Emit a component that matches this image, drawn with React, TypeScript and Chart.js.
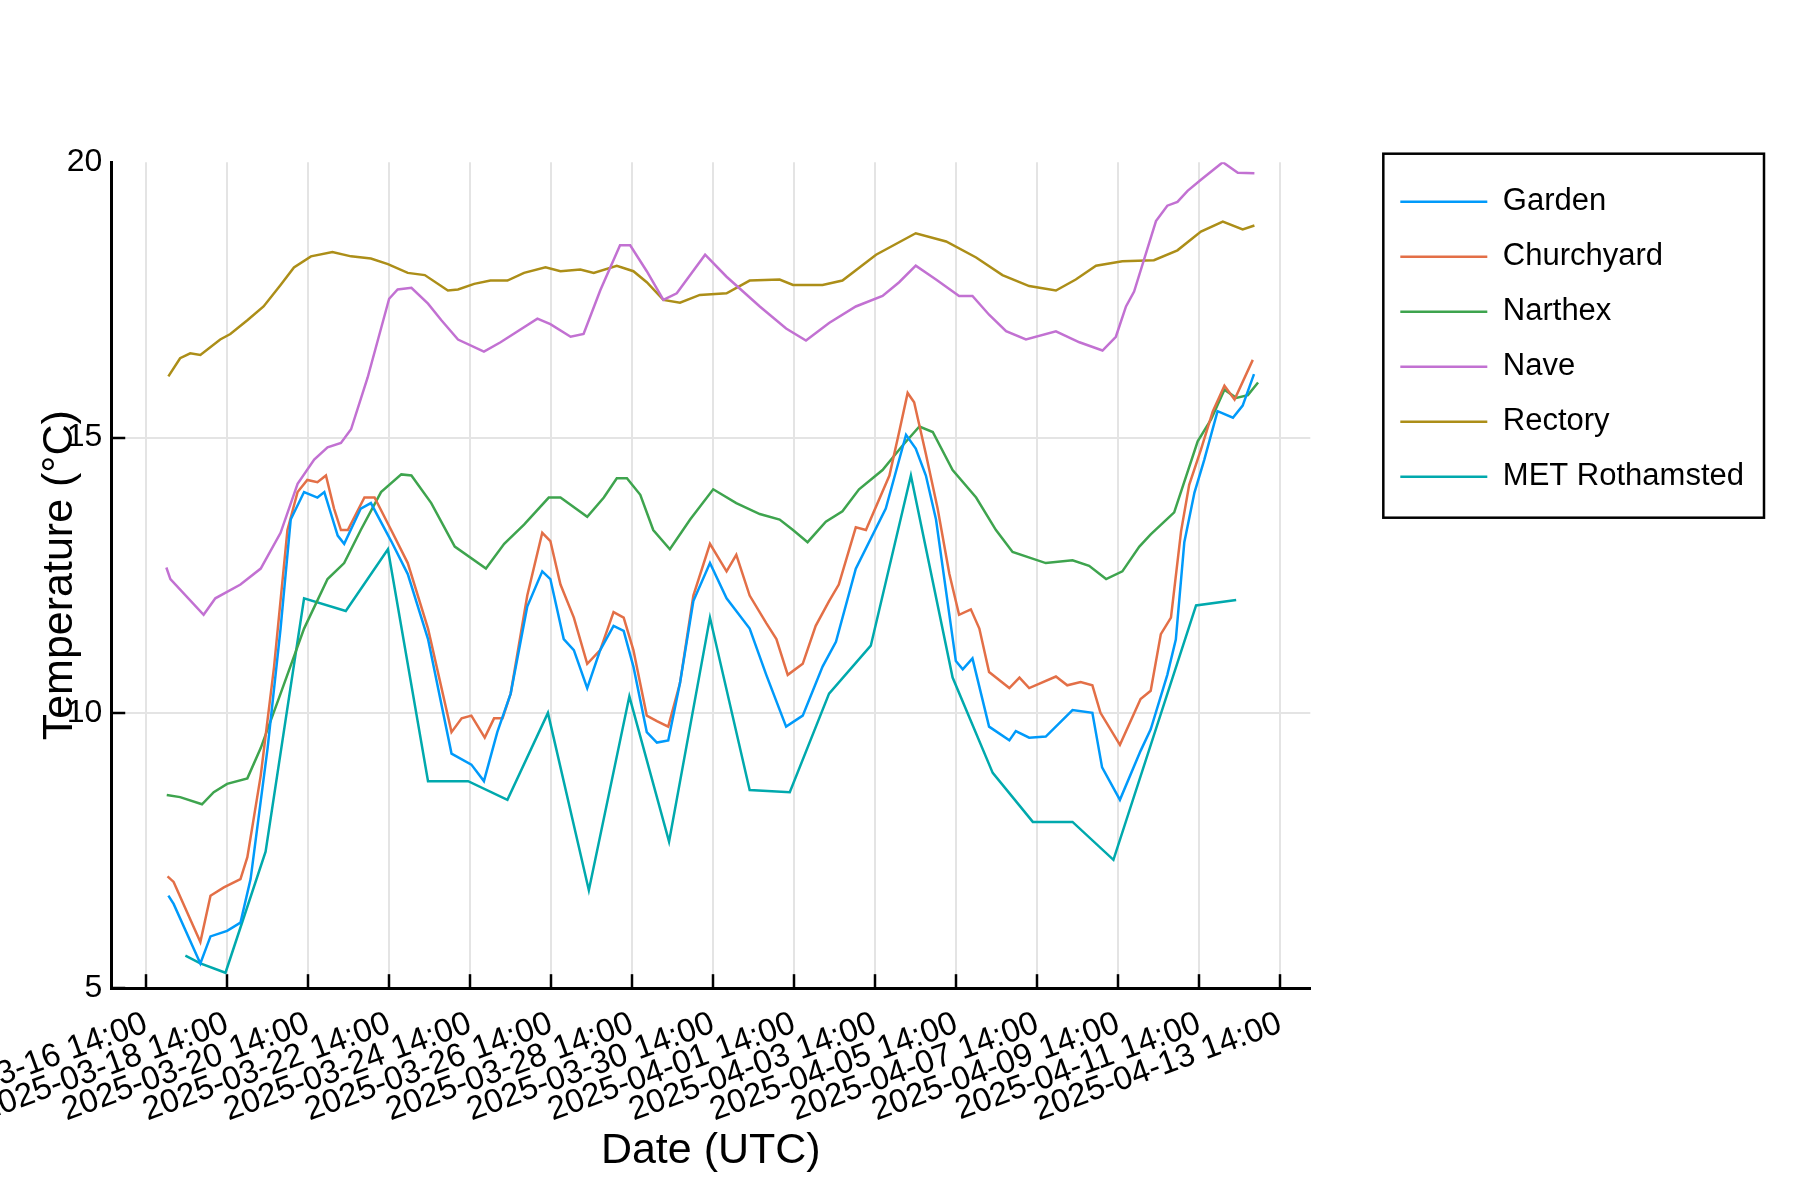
import React, { useEffect, useRef } from 'react';
import Chart from 'chart.js/auto';

Chart.defaults.font.family = "'Liberation Sans', Arial, sans-serif";
Chart.defaults.color = '#000';

// x values are days since 2025-03-16 14:00 UTC (the first axis tick)
const tickDays = [0, 2, 4, 6, 8, 10, 12, 14, 16, 18, 20, 22, 24, 26, 28];
const tickLabels = [
  '2025-03-16 14:00', '2025-03-18 14:00', '2025-03-20 14:00', '2025-03-22 14:00',
  '2025-03-24 14:00', '2025-03-26 14:00', '2025-03-28 14:00', '2025-03-30 14:00',
  '2025-04-01 14:00', '2025-04-03 14:00', '2025-04-05 14:00', '2025-04-07 14:00',
  '2025-04-09 14:00', '2025-04-11 14:00', '2025-04-13 14:00',
];
const yTicks = [5, 10, 15, 20];

const gardenDays = [0.55, 0.68, 1.34, 1.59, 2.0, 2.33, 2.58, 3.0, 3.32, 3.57, 3.9, 4.23, 4.4, 4.73, 4.89, 5.3, 5.55, 6.05, 6.46, 6.96, 7.54, 8.03, 8.34, 8.67, 9.0, 9.41, 9.78, 9.98, 10.31, 10.56, 10.89, 11.21, 11.54, 11.79, 12.03, 12.36, 12.61, 12.89, 13.18, 13.51, 13.92, 14.33, 14.9, 15.31, 15.8, 16.21, 16.7, 17.03, 17.52, 18.26, 18.76, 19.0, 19.25, 19.5, 19.99, 20.16, 20.4, 20.81, 21.31, 21.47, 21.8, 22.21, 22.87, 23.36, 23.6, 24.04, 24.55, 24.8, 25.21, 25.42, 25.63, 25.88, 26.12, 26.45, 26.83, 27.07, 27.35];
const gardenTemps = [6.68, 6.53, 5.45, 5.94, 6.04, 6.19, 6.98, 9.36, 11.53, 13.51, 14.01, 13.91, 14.01, 13.22, 13.07, 13.71, 13.81, 13.12, 12.52, 11.34, 9.26, 9.06, 8.76, 9.65, 10.35, 11.93, 12.57, 12.43, 11.34, 11.14, 10.45, 11.14, 11.58, 11.49, 10.84, 9.65, 9.46, 9.5, 10.54, 12.03, 12.72, 12.08, 11.53, 10.69, 9.75, 9.95, 10.84, 11.29, 12.62, 13.71, 15.05, 14.8, 14.31, 13.51, 10.94, 10.79, 10.99, 9.75, 9.5, 9.67, 9.55, 9.57, 10.05, 10.0, 9.01, 8.42, 9.31, 9.7, 10.69, 11.33, 13.1, 14.0, 14.59, 15.48, 15.36, 15.58, 16.15];

const churchyardDays = [0.53, 0.68, 1.34, 1.59, 1.92, 2.33, 2.5, 2.83, 3.16, 3.49, 3.74, 3.98, 4.23, 4.44, 4.64, 4.81, 4.98, 5.39, 5.64, 6.05, 6.46, 6.96, 7.54, 7.79, 8.03, 8.36, 8.59, 8.8, 9.0, 9.41, 9.78, 9.98, 10.23, 10.56, 10.89, 11.21, 11.54, 11.79, 12.03, 12.36, 12.61, 12.89, 13.18, 13.51, 13.92, 14.33, 14.57, 14.9, 15.31, 15.56, 15.84, 16.21, 16.53, 16.86, 17.1, 17.52, 17.77, 18.35, 18.59, 18.8, 18.96, 19.25, 19.54, 19.83, 20.07, 20.36, 20.57, 20.81, 21.31, 21.56, 21.8, 22.46, 22.74, 23.07, 23.36, 23.56, 24.04, 24.55, 24.8, 25.05, 25.3, 25.55, 25.75, 26.04, 26.33, 26.62, 26.87, 27.32];
const churchyardTemps = [7.03, 6.93, 5.84, 6.68, 6.83, 6.98, 7.38, 8.86, 10.84, 13.32, 14.01, 14.23, 14.19, 14.31, 13.71, 13.32, 13.32, 13.91, 13.91, 13.32, 12.72, 11.53, 9.65, 9.9, 9.95, 9.55, 9.9, 9.9, 10.35, 12.13, 13.27, 13.12, 12.33, 11.73, 10.89, 11.14, 11.83, 11.73, 11.14, 9.95, 9.85, 9.75, 10.54, 12.13, 13.07, 12.57, 12.87, 12.13, 11.63, 11.34, 10.69, 10.89, 11.58, 12.03, 12.33, 13.37, 13.32, 14.31, 15.1, 15.81, 15.64, 14.7, 13.71, 12.52, 11.78, 11.88, 11.53, 10.74, 10.45, 10.64, 10.45, 10.66, 10.5, 10.56, 10.5, 10.0, 9.42, 10.25, 10.4, 11.43, 11.73, 13.3, 14.14, 14.78, 15.47, 15.94, 15.69, 16.41];

const narthexDays = [0.51, 0.84, 1.38, 1.67, 2.0, 2.5, 2.83, 3.32, 3.9, 4.48, 4.89, 5.3, 5.8, 6.3, 6.55, 7.04, 7.62, 8.39, 8.84, 9.33, 9.94, 10.23, 10.89, 11.3, 11.62, 11.87, 12.2, 12.52, 12.93, 13.43, 14.0, 14.57, 15.15, 15.64, 15.97, 16.33, 16.78, 17.19, 17.6, 18.18, 18.67, 19.09, 19.42, 19.91, 20.49, 20.98, 21.39, 22.21, 22.87, 23.28, 23.7, 24.1, 24.52, 24.8, 25.38, 25.96, 26.29, 26.62, 26.91, 27.2, 27.45];
const narthexTemps = [8.51, 8.47, 8.34, 8.56, 8.71, 8.81, 9.36, 10.35, 11.53, 12.43, 12.72, 13.32, 14.01, 14.33, 14.31, 13.81, 13.02, 12.62, 13.07, 13.42, 13.91, 13.91, 13.56, 13.91, 14.26, 14.26, 13.96, 13.32, 12.97, 13.51, 14.06, 13.81, 13.61, 13.51, 13.32, 13.1, 13.47, 13.66, 14.06, 14.41, 14.85, 15.2, 15.1, 14.41, 13.91, 13.32, 12.92, 12.72, 12.77, 12.67, 12.43, 12.57, 13.02, 13.24, 13.64, 14.93, 15.33, 15.87, 15.72, 15.77, 16.0];

const naveDays = [0.5, 0.6, 1.42, 1.71, 2.33, 2.83, 3.32, 3.74, 4.15, 4.48, 4.81, 5.06, 5.47, 6.0, 6.21, 6.55, 6.96, 7.29, 7.7, 8.34, 8.75, 9.66, 9.98, 10.48, 10.8, 11.21, 11.7, 11.95, 12.36, 12.77, 13.1, 13.8, 14.33, 15.15, 15.8, 16.29, 16.86, 17.52, 18.18, 18.59, 19.0, 19.5, 20.07, 20.4, 20.81, 21.23, 21.72, 22.46, 23.04, 23.61, 23.94, 24.19, 24.39, 24.93, 25.21, 25.46, 25.71, 26.04, 26.58, 26.95, 27.36];
const naveTemps = [12.64, 12.43, 11.78, 12.08, 12.33, 12.62, 13.27, 14.16, 14.6, 14.82, 14.9, 15.15, 16.09, 17.52, 17.69, 17.72, 17.43, 17.13, 16.78, 16.56, 16.73, 17.16, 17.06, 16.83, 16.88, 17.67, 18.49, 18.49, 18.02, 17.5, 17.62, 18.32, 17.92, 17.38, 16.98, 16.76, 17.08, 17.38, 17.57, 17.82, 18.12, 17.87, 17.57, 17.57, 17.23, 16.93, 16.78, 16.93, 16.73, 16.58, 16.83, 17.38, 17.65, 18.93, 19.21, 19.28, 19.48, 19.68, 20.0, 19.81, 19.8];

const rectoryDays = [0.55, 0.84, 1.09, 1.34, 1.83, 2.08, 2.5, 2.9, 3.32, 3.65, 4.07, 4.6, 5.06, 5.55, 5.97, 6.46, 6.88, 7.45, 7.7, 8.1, 8.5, 8.92, 9.33, 9.86, 10.23, 10.72, 11.05, 11.62, 12.03, 12.36, 12.77, 13.18, 13.67, 14.33, 14.9, 15.64, 15.97, 16.7, 17.19, 18.02, 19.0, 19.75, 20.49, 21.14, 21.8, 22.46, 22.95, 23.45, 24.1, 24.88, 25.46, 26.04, 26.58, 27.07, 27.36];
const rectoryTemps = [16.11, 16.44, 16.53, 16.5, 16.78, 16.88, 17.13, 17.38, 17.77, 18.09, 18.29, 18.37, 18.29, 18.25, 18.15, 17.99, 17.95, 17.67, 17.69, 17.79, 17.85, 17.85, 17.99, 18.09, 18.02, 18.05, 17.99, 18.12, 18.02, 17.82, 17.5, 17.45, 17.59, 17.62, 17.85, 17.87, 17.77, 17.77, 17.85, 18.32, 18.71, 18.56, 18.27, 17.95, 17.75, 17.67, 17.87, 18.12, 18.2, 18.22, 18.4, 18.74, 18.92, 18.78, 18.85];

const metDays = [0.97, 1.34, 1.96, 2.95, 3.9, 4.93, 5.97, 6.96, 7.95, 8.92, 9.92, 10.93, 11.93, 12.91, 13.92, 14.9, 15.89, 16.86, 17.89, 18.88, 19.91, 20.9, 21.89, 22.87, 23.88, 25.92, 26.91];
const metTemps = [5.59, 5.45, 5.28, 7.48, 12.08, 11.85, 12.97, 8.76, 8.76, 8.42, 10.0, 6.78, 10.3, 7.66, 11.73, 8.6, 8.56, 10.35, 11.22, 14.31, 10.64, 8.91, 8.02, 8.02, 7.33, 11.95, 12.05];

// where the plot area sits on the page, in px
const PLOT_LEFT = 111;
const PLOT_TOP = 162;
const PLOT_WIDTH = 1199;
const PLOT_HEIGHT = 826;

const pts = (days: number[], temps: number[]) => days.map((x, i) => ({ x, y: temps[i] }));

// thin black frame around the legend, like the original plot
const legendFrame = {
  id: 'legendFrame',
  afterDraw(chart: any) {
    const boxes = chart.legend?.legendHitBoxes;
    if (!boxes || !boxes.length) return;
    const first = boxes[0];
    const last = boxes[boxes.length - 1];
    const left = Math.min(...boxes.map((b: any) => b.left)) - 17;
    const right = Math.max(...boxes.map((b: any) => b.left + b.width)) + 20;
    const top = first.top + first.height / 2 - 48;
    const bottom = last.top + last.height / 2 + 41;
    const { ctx } = chart;
    ctx.save();
    ctx.strokeStyle = '#000';
    ctx.lineWidth = 2.5;
    ctx.strokeRect(left, top, right - left, bottom - top);
    ctx.restore();
  },
};

const App: React.FC = () => {
  const canvasRef = useRef<HTMLCanvasElement>(null);

  useEffect(() => {
    const canvas = canvasRef.current;
    if (!canvas) return;

    const line = (label: string, color: string, days: number[], temps: number[]) => ({
      label,
      data: pts(days, temps),
      borderColor: color,
      backgroundColor: color,
      borderWidth: 2.5,
      pointRadius: 0,
      tension: 0,
    });

    const chart = new Chart(canvas, {
      type: 'line',
      data: {
        datasets: [
          line('Garden', '#009AFA', gardenDays, gardenTemps),
          line('Churchyard', '#E36F47', churchyardDays, churchyardTemps),
          line('Narthex', '#3EA44E', narthexDays, narthexTemps),
          line('Nave', '#C271D2', naveDays, naveTemps),
          line('Rectory', '#AC8E18', rectoryDays, rectoryTemps),
          line('MET Rothamsted', '#00A9AD', metDays, metTemps),
        ],
      },
      options: {
        responsive: false,
        maintainAspectRatio: false,
        animation: false,
        events: [],
        layout: { padding: { right: 40 } },
        scales: {
          x: {
            type: 'linear',
            min: -0.86,
            max: 28.74,
            afterBuildTicks: (axis: any) => {
              axis.ticks = tickDays.map((value) => ({ value }));
            },
            ticks: {
              callback: (_v: any, i: number) => tickLabels[i],
              autoSkip: false,
              minRotation: 20,
              maxRotation: 20,
              padding: 30,
              font: { size: 33 },
            },
            grid: { color: '#e4e4e4', lineWidth: 2, tickColor: '#000', tickWidth: 2.5, tickLength: -14 },
            border: { color: '#000', width: 3 },
            title: { display: true, text: 'Date (UTC)', font: { size: 43 }, padding: { top: -35, bottom: 0 } },
          },
          y: {
            min: 5,
            max: 20,
            afterBuildTicks: (axis: any) => {
              axis.ticks = yTicks.map((value) => ({ value }));
            },
            ticks: { padding: 23, font: { size: 32 } },
            grid: {
              color: (c: any) => (c.tick && c.tick.value === 20 ? 'rgba(0,0,0,0)' : '#e4e4e4'),
              tickColor: (c: any) => (c.tick && c.tick.value === 20 ? 'rgba(0,0,0,0)' : '#000'),
              lineWidth: 2,
              tickWidth: 2.5,
              tickLength: -14,
            },
            border: { color: '#000', width: 3 },
            title: { display: true, text: 'Temperature (°C)', font: { size: 43 }, padding: { top: 0, bottom: -42 } },
          },
          // hidden axis that only keeps a gap between the plot and the legend
          gap: {
            type: 'linear',
            axis: 'y',
            position: 'right',
            display: false,
            afterFit: (s: any) => {
              s.width = 66;
            },
          },
        },
        plugins: {
          legend: {
            position: 'right',
            align: 'start',
            fullSize: false,
            labels: {
              usePointStyle: true,
              pointStyle: 'line',
              pointStyleWidth: 87,
              padding: 24,
              font: { size: 31 },
              color: '#000',
            },
          },
          tooltip: { enabled: false },
        },
      },
      plugins: [legendFrame],
    } as any);

    // resize until the plot area has the reference size, then slide the canvas into place
    for (let i = 0; i < 4; i++) {
      const a = chart.chartArea;
      const dw = PLOT_WIDTH - (a.right - a.left);
      const dh = PLOT_HEIGHT - (a.bottom - a.top);
      if (Math.abs(dw) < 0.5 && Math.abs(dh) < 0.5) break;
      chart.resize(chart.width + dw, chart.height + dh);
    }
    canvas.style.left = `${PLOT_LEFT - chart.chartArea.left}px`;
    canvas.style.top = `${PLOT_TOP - chart.chartArea.top}px`;

    return () => {
      chart.destroy();
    };
  }, []);

  return (
    <div style={{ position: 'fixed', left: 0, top: 0, width: 1800, height: 1200, overflow: 'hidden', background: '#fff' }}>
      <canvas ref={canvasRef} width={1950} height={1200} style={{ position: 'absolute', left: 0, top: 0 }} />
    </div>
  );
};

export default App;
